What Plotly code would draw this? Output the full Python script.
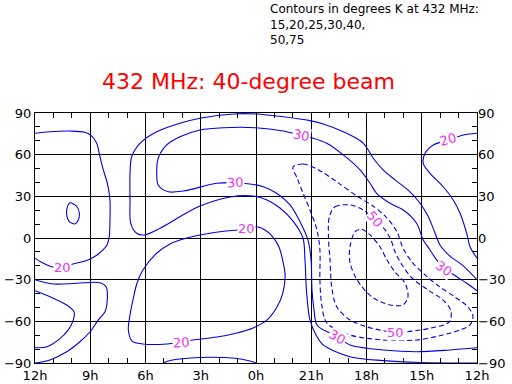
import plotly.graph_objects as go

# ---------------- data (RA in hours, axis runs 12h -> 0h -> 12h; RA>12h stored as RA-24) ----------------
X_TICKVALS = [12, 9, 6, 3, 0, -3, -6, -9, -12]
X_TICKTEXT = ["12h", "9h", "6h", "3h", "0h", "21h", "18h", "15h", "12h"]
Y_TICKVALS = [90, 60, 30, 0, -30, -60, -90]
Y_TICKTEXT = ["90", "60", "30", "0", "\u221230", "\u221260", "\u221290"]

# 15 K contours (ellipse near 10h, dome near south pole)
LEVEL_15_RA = [10.1, 10.25, 10.28, 10.15, 9.83, 9.65, 9.59, 9.72, 10.1, None,
               5.03, 4.67, 3.04, 1.14, 0.33, 0.0]
LEVEL_15_DEC = [25.4, 22, 16.6, 12, 10.1, 13, 17.8, 22.5, 25.4, None,
                -90, -88.2, -86, -86.6, -88.6, -90]

# 20 K contours (loop wrapping round 12h, and central loop)
LEVEL_20_RA = [12, 11.19, 10.10, 9.29, 8.92, 8.65, 8.47, 8.29, 8.07, 7.93, 7.93, 7.97, 8.09, 8.31, 8.63,
               9.12, 9.94, 10.53, 11.02, 11.57, 12, None,
               -12, -11.26, -10.44, -9.63, -9.18, -9.08, -9.45, -10.17, -10.71, -11.08, -11.44, -11.62, -12, None,
               4.13, 3.04, 1.95, 1.03, 0.49, -0.05, -0.49, -0.92, -1.25, -1.47, -1.58, -1.47, -1.14, -0.60,
               0.16, 1.03, 2.12, 3.42, 4.07, 4.83, 6.14, 6.73, 6.93, 6.84, 6.68, 6.46, 6.14, 5.38, 4.67, 4.13]
LEVEL_20_DEC = [75.4, 76.5, 77, 76.1, 73.4, 68.2, 58.5, 49, 39.4, 27.4, 13, 0.9, -5, -8.6, -12.2,
                -15.8, -18.7, -20.9, -20.9, -18, -14.5, None,
                75.4, 74.2, 70.6, 67, 61, 53.8, 46.6, 36.9, 27.4, 17.8, 3.4, -6.3, -14.5, None,
                -1.4, 2.2, 4.5, 5.8, 7, 8.1, 5.8, 0.7, -6.5, -17.3, -26.6, -38.9, -49.7, -59,
                -64.8, -68.4, -71.3, -73.4, -74.9, -76.3, -76.3, -74.2, -66.2, -55.4, -44.6, -32.4, -23, -10.8, -4.3, -1.4]

# 25 K contour
LEVEL_25_RA = [-12, -11.19, -10.53, -9.99, -9.72, -9.34, -8.90, -8.25, -7.55, -6.90, -6.37, -5.83, -4.74,
               -3.65, -2.93, -1.48, 0, 1.23, 3.04, 4.13, 5.39, 6.30, 6.75, 6.84, 6.84, 6.80, 6.48, 6.03,
               5.21, 4.13, 3.04, 1.41, 0.16, -0.60, -1.30, -2.01, -2.55, -2.66, -2.75, -2.93, -3.26,
               -3.65, -5.10, -6.90, -8.90, -12, None,
               12, 11.0, 9.74, 8.47, 8.14, 8.07, 8.20, 8.56, 9.01, 9.56, 10.28, 11.19, 12]
LEVEL_25_DEC = [-30, -19.4, -13, -5, 3.6, 15.8, 25.2, 34.6, 41.8, 49, 57.4, 68.2, 76.5,
                82.1, 84.5, 87.3, 89.3, 89.3, 86.2, 82.6, 76.5, 68.2, 58.5, 46.6, 27.4, 10.6, 3.4, 2.2,
                7, 15.3, 23, 29.5, 30.2, 27.4, 21.6, 12.2, 0, -15.8, -39.6, -59, -69.8,
                -77, -85.5, -88.3, -89.6, -90, None,
                -30, -33.1, -32.6, -32.2, -35.1, -43.4, -53.1, -59, -67.5, -74.7, -81.9, -87.8, -90]

# 30 K contour
LEVEL_30_RA = [-12, -11.44, -10.90, -10.21, -9.81, -9.45, -9.08, -8.72, -8.0, -7.28, -6.55, -6.19, -5.65,
               -4.74, -3.84, -3.11, -2.48, -1.48, 0.02, 1.78, 3.04, 4.13, 4.85, 5.31, 5.39, 5.31, 4.76,
               3.95, 2.13, 1.09, 0.33, -0.40, -1.12, -1.85, -2.39, -2.82, -2.99, -3.04, -3.15, -3.31,
               -4.02, -4.45, -5.10, -6.91, -8.72, -10.53, -12, None,
               12, 11.19, 10.28, 9.88, 9.92, 10.19, 10.73, 11.36, 12]
LEVEL_30_DEC = [-38, -32.6, -27.9, -21.6, -15.8, -8.6, -1.4, 10.6, 20.2, 25, 32.2, 39.4, 49,
                59.8, 68.2, 71.8, 73.8, 77, 79.4, 79.4, 77.8, 72.9, 67, 57.4, 47.7, 38.2, 33.3,
                33.8, 39.4, 39.8, 38.9, 36.9, 32.2, 23.8, 11.7, -1.4, -15.8, -37.4, -51.8, -62.6,
                -68.6, -71.3, -77, -80.6, -81.9, -80.6, -79, None,
                -38, -42.3, -48.2, -53.1, -59, -66.2, -73.4, -78.3, -79]

# 40 K contour
LEVEL_40_RA = [-2.01, -2.55, -3.31, -4.40, -5.48, -6.35, -7.11, -7.66, -7.98, -8.47, -9.18, -9.99, -10.80,
               -11.46, -11.78, -11.62, -11.08, -10.15, -8.74, -6.90, -5.10, -3.85, -3.57, -3.47, -3.47,
               -3.31, -2.93, -2.55, -2.23, -2.01]
LEVEL_40_DEC = [51.1, 53.3, 49.7, 40.3, 30.2, 23, 14.4, 4.3, -7.2, -17.3, -26.6, -35.3, -42.5,
                -49, -56.2, -62.6, -66.2, -69.8, -73.4, -73.4, -69.8, -61.2, -48.2, -30.2, -8.6,
                5.8, 20.2, 32.4, 43.2, 51.1]

# 50 K contour
LEVEL_50_RA = [-3.98, -4.29, -5.10, -5.83, -6.46, -7.01, -7.33, -7.55, -7.93, -8.47, -9.34, -10.15, -10.59,
               -10.48, -9.45, -8.18, -7.55, -6.90, -6.01, -5.10, -4.38, -4.11, -4.02, -3.94, -3.98]
LEVEL_50_DEC = [15.3, 22.5, 23.8, 20.2, 13, 5.8, -1.4, -10.1, -19.4, -28.8, -37.4, -44.6, -52.6,
                -60.5, -65, -67.5, -67.7, -66.7, -63.9, -59, -49.5, -35.1, -15.8, -1.4, 15.3]

# 75 K contour
LEVEL_75_RA = [-5.38, -5.74, -6.19, -6.73, -7.11, -7.55, -8.09, -8.25, -7.98, -7.28, -6.30, -5.49, -5.10,
               -5.10, -5.38]
LEVEL_75_DEC = [4.5, 6.3, 2.2, -6.3, -15.8, -24.5, -32.4, -42.5, -48.2, -48.2, -42.5, -30.2, -17.3,
                -6.5, 4.5]

LABEL_TEXT = ["20", "20", "20", "20", "30", "30", "30", "30", "50", "50"]
LABEL_RA = [10.53, 4.07, 0.49, -10.44, -2.48, 1.09, -10.21, -4.45, -6.46, -7.55]
LABEL_DEC = [-20.9, -74.9, 7, 70.6, 73.8, 39.8, -21.6, -71.3, 13, -67.7]
LABEL_ANGLE = [0, -3, 0, -15, 12, -3, 35, 30, 50, 0]

NOTE_TEXT = "Contours in degrees K at 432 MHz:<br>15,20,25,30,40,<br>50,75"
TITLE = "432 MHz: 40-degree beam"

# ---------------- figure ----------------
FONT = "DejaVu Sans"
BLUE = "#0000e6"
MAGENTA = "#ee33ee"

levels = [
    (LEVEL_15_RA, LEVEL_15_DEC, "solid"),
    (LEVEL_20_RA, LEVEL_20_DEC, "solid"),
    (LEVEL_25_RA, LEVEL_25_DEC, "solid"),
    (LEVEL_30_RA, LEVEL_30_DEC, "solid"),
    (LEVEL_40_RA, LEVEL_40_DEC, "5px,3px"),
    (LEVEL_50_RA, LEVEL_50_DEC, "5px,3px"),
    (LEVEL_75_RA, LEVEL_75_DEC, "5px,3px"),
]

fig = go.Figure()
for ra, dec, dash in levels:
    fig.add_trace(go.Scatter(x=ra, y=dec, mode="lines",
                             line=dict(color=BLUE, width=1.1, dash=dash, shape="spline", smoothing=0.9),
                             hoverinfo="skip", showlegend=False))
# invisible trace to activate mirrored axes (top / right)
fig.add_trace(go.Scatter(x=[None], y=[None], xaxis="x2", yaxis="y2", showlegend=False, hoverinfo="skip"))

for t, xr, yd, ang in zip(LABEL_TEXT, LABEL_RA, LABEL_DEC, LABEL_ANGLE):
    fig.add_annotation(x=xr, y=yd, text=t, showarrow=False, textangle=ang,
                       font=dict(family=FONT, size=13, color=MAGENTA),
                       bgcolor="white", borderpad=0)

# note block (top right) and title, positioned in paper units of the plot area (35..477 x 113..363 px)
fig.add_annotation(xref="paper", yref="paper", x=(268 - 35) / 442, y=(363 - 0) / 250, text=NOTE_TEXT,
                   showarrow=False, xanchor="left", yanchor="top", align="left",
                   font=dict(family=FONT, size=12, color="black"))
fig.add_annotation(xref="paper", yref="paper", x=(248 - 35) / 442, y=(363 - 82) / 250, text=TITLE,
                   showarrow=False, xanchor="center", yanchor="middle",
                   font=dict(family=FONT, size=22, color="red"))

tickfont = dict(family=FONT, size=13, color="black")
common_x = dict(range=[12, -12], tickmode="array", tickvals=X_TICKVALS, ticktext=X_TICKTEXT,
                ticks="inside", ticklen=5, tickcolor="black", zeroline=False, automargin=False,
                minor=dict(tickmode="linear", tick0=0, dtick=1, ticks="inside", ticklen=5,
                           tickcolor="black", showgrid=False))
common_y = dict(range=[-90, 90], tickmode="array", tickvals=Y_TICKVALS, ticktext=Y_TICKTEXT,
                ticks="inside", ticklen=5, tickcolor="black", zeroline=False, automargin=False,
                minor=dict(tickmode="linear", tick0=0, dtick=10, ticks="inside", ticklen=5,
                           tickcolor="black", showgrid=False))

fig.update_layout(
    width=512, height=384, autosize=False,
    margin=dict(l=35, r=35, t=113, b=21, pad=0, autoexpand=False),
    paper_bgcolor="white", plot_bgcolor="white",
    xaxis=dict(**common_x, showgrid=True, gridcolor="black", gridwidth=1,
               showline=True, linecolor="black", linewidth=1, mirror=True, tickfont=tickfont),
    yaxis=dict(**common_y, showgrid=True, gridcolor="black", gridwidth=1,
               showline=True, linecolor="black", linewidth=1, mirror=True, tickfont=tickfont),
    xaxis2=dict(**common_x, overlaying="x", side="top", showticklabels=False, showgrid=False,
                showline=False),
    yaxis2=dict(**common_y, overlaying="y", side="right", showticklabels=True, showgrid=False,
                showline=False, tickfont=tickfont),
)

fig.write_html("out.html",
               config={"displayModeBar": False, "staticPlot": True},
               post_script="document.body.style.margin='0px';document.body.style.padding='0px';"
                           "document.body.style.overflow='hidden';")
